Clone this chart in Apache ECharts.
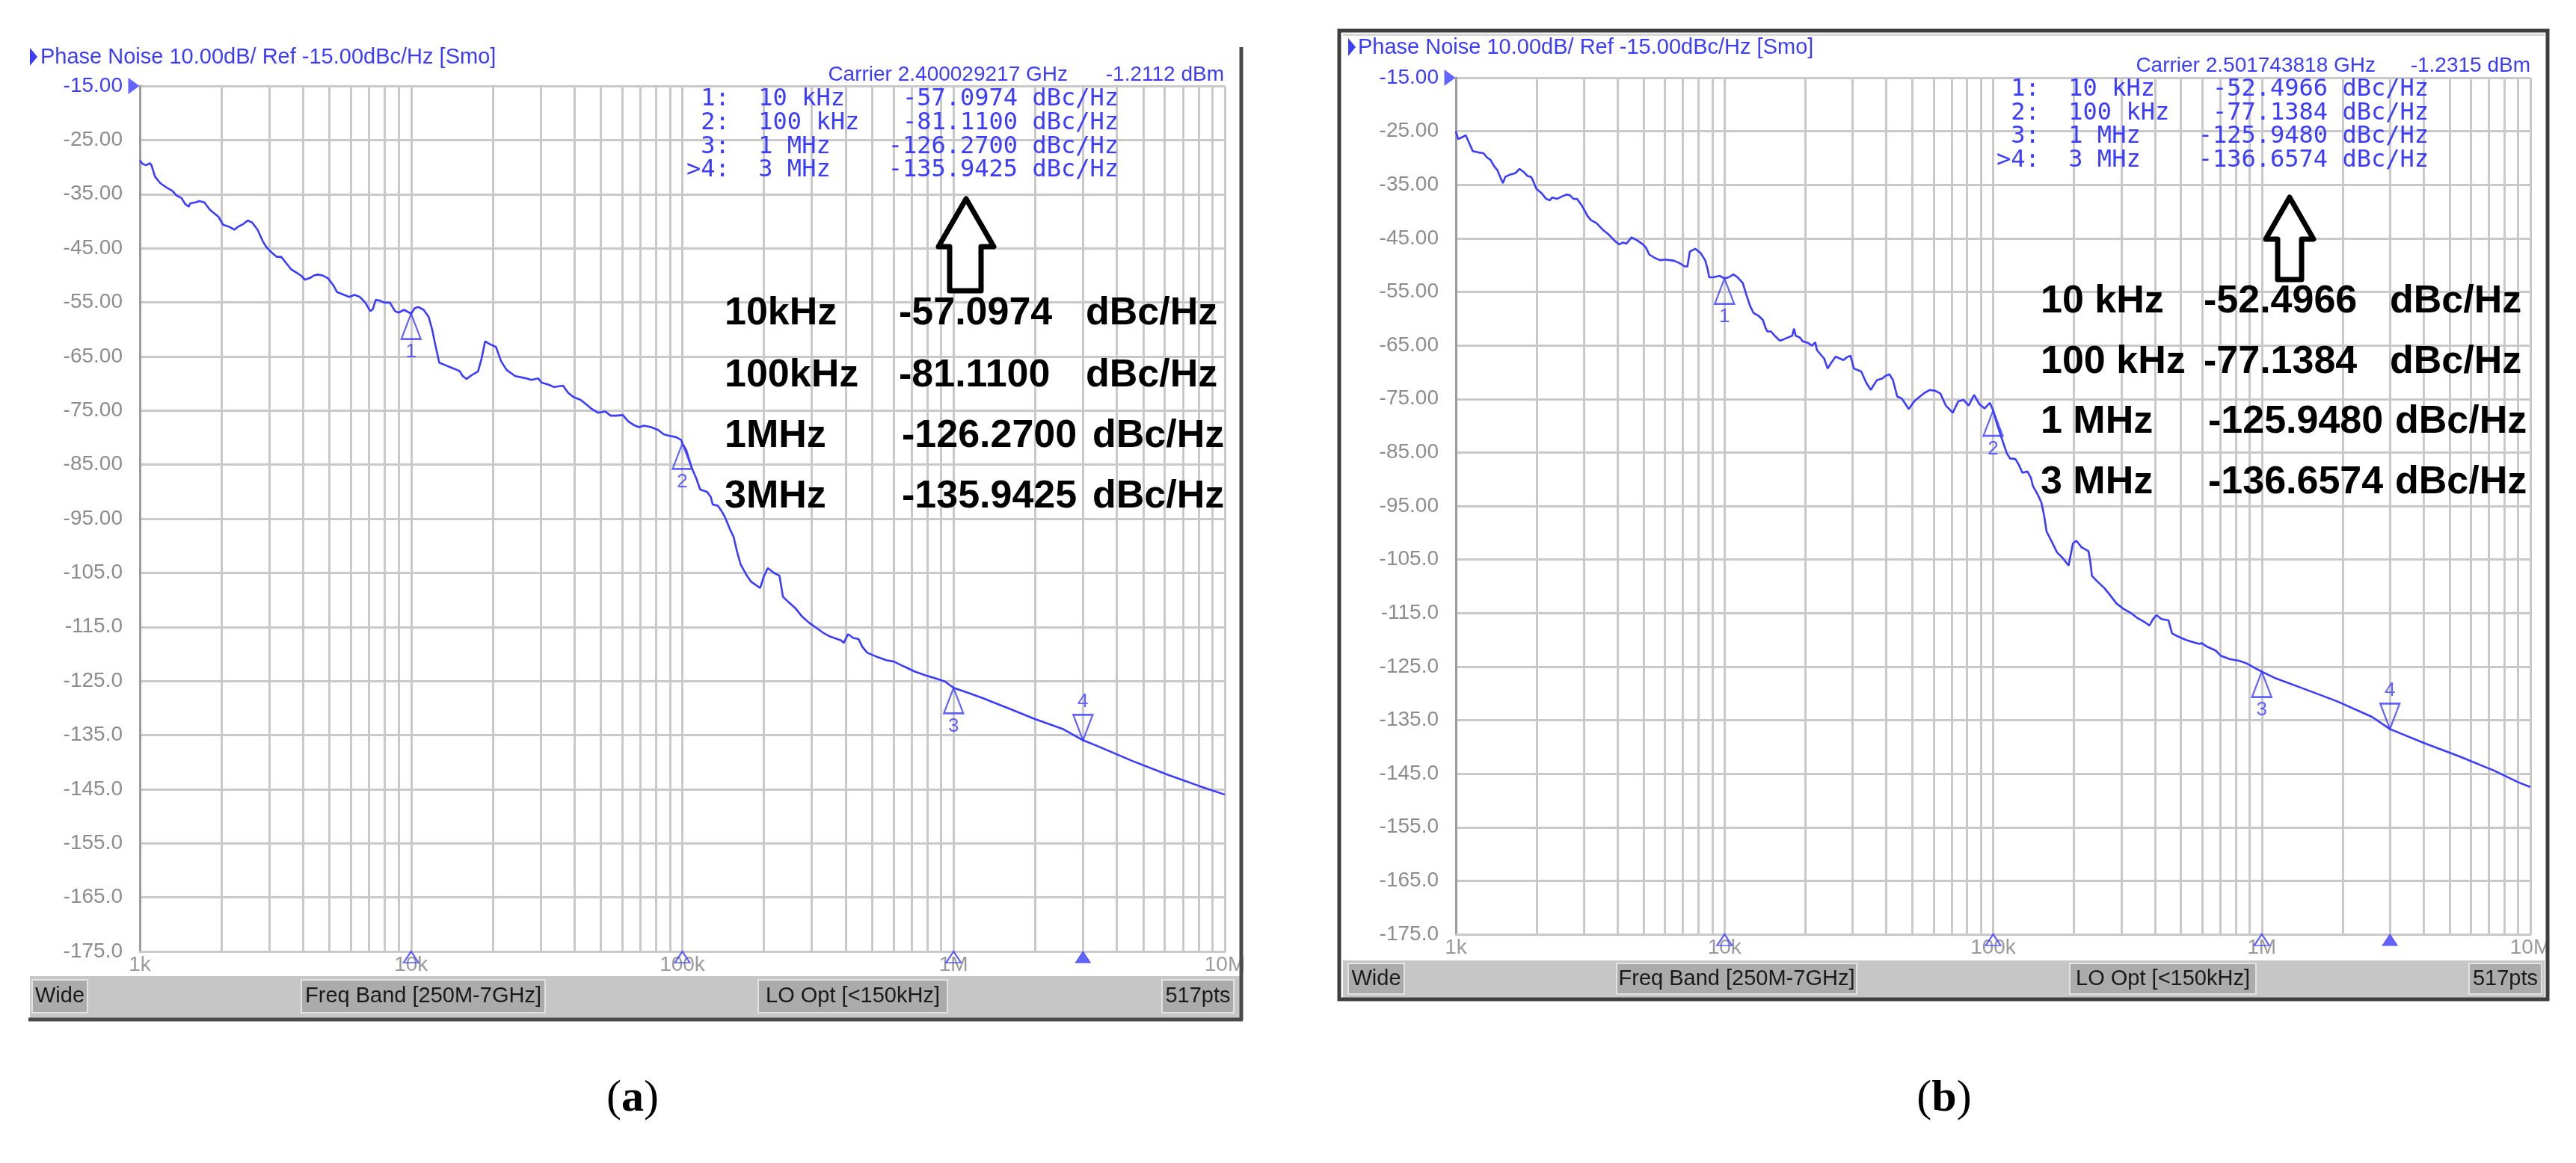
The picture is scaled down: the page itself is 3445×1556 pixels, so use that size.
<!DOCTYPE html>
<html><head><meta charset="utf-8">
<script src="https://cdn.jsdelivr.net/npm/echarts@6/dist/echarts.min.js"></script>
<style>html,body{margin:0;padding:0;background:#fff;}#c{width:3445px;height:1556px;}</style>
</head><body><div id="c"></div>
<script>
// ================= DATA =================
const xTickValues = [1e3, 1e4, 1e5, 1e6, 1e7];
const xTickLabels = ['1k', '10k', '100k', '1M', '10M'];
const yBottom = -175, yTop = -15, yStep = 10;
const refLevel = -15;

const markerFreqs = [1e4, 1e5, 1e6, 3e6];
const markerNums = ['1', '2', '3', '4'];
const markerTableFreq = ['10 kHz', '100 kHz', '1 MHz', '3 MHz'];
const bigFreqA = ['10kHz', '100kHz', '1MHz', '3MHz'];
const bigFreqB = ['10 kHz', '100 kHz', '1 MHz', '3 MHz'];
const markerValuesA = [-57.0974, -81.1100, -126.2700, -135.9425];
const markerValuesB = [-52.4966, -77.1384, -125.9480, -136.6574];
const unitText = 'dBc/Hz';

const headerText = 'Phase Noise 10.00dB/ Ref -15.00dBc/Hz [Smo]';
const carrierA = ['Carrier 2.400029217 GHz', '-1.2112 dBm'];
const carrierB = ['Carrier 2.501743818 GHz', '-1.2315 dBm'];
const statusButtons = ['Wide', 'Freq Band [250M-7GHz]', 'LO Opt [<150kHz]', '517pts'];

// trace (a): [log10(offset / Hz), dBc/Hz]
const traceA = [
[3.000,-28.76],[3.010,-29.39],[3.023,-29.66],[3.037,-29.29],[3.043,-29.66],[3.056,-31.77],[3.076,-32.99],
[3.102,-33.89],[3.121,-34.42],[3.134,-35.21],[3.154,-35.74],[3.167,-36.80],[3.180,-37.33],[3.186,-36.69],
[3.206,-36.53],[3.219,-36.27],[3.238,-36.53],[3.258,-37.86],[3.277,-38.65],[3.290,-39.18],[3.307,-40.66],
[3.329,-41.03],[3.349,-41.56],[3.362,-41.03],[3.382,-40.50],[3.398,-39.87],[3.414,-40.24],[3.434,-41.56],
[3.453,-43.68],[3.466,-44.74],[3.486,-45.79],[3.505,-46.59],[3.521,-46.59],[3.538,-47.65],[3.557,-48.86],
[3.577,-49.50],[3.596,-50.13],[3.609,-50.82],[3.629,-50.45],[3.642,-50.03],[3.655,-49.87],[3.674,-50.03],
[3.694,-50.56],[3.714,-51.88],[3.727,-53.10],[3.753,-53.62],[3.772,-53.99],[3.792,-53.62],[3.811,-53.99],
[3.831,-55.05],[3.850,-56.64],[3.859,-56.27],[3.870,-54.52],[3.885,-54.68],[3.902,-55.05],[3.922,-55.05],
[3.941,-56.64],[3.954,-56.90],[3.974,-56.38],[4.000,-57.10],[4.013,-56.11],[4.026,-55.85],[4.046,-56.38],
[4.065,-57.70],[4.078,-60.08],[4.091,-63.25],[4.104,-66.16],[4.130,-66.69],[4.156,-67.22],[4.169,-67.49],
[4.180,-67.75],[4.189,-68.54],[4.204,-69.18],[4.221,-68.54],[4.247,-67.75],[4.260,-65.37],[4.273,-62.20],
[4.286,-62.62],[4.313,-63.25],[4.332,-65.90],[4.352,-67.49],[4.384,-68.65],[4.417,-68.97],[4.443,-69.34],
[4.469,-69.07],[4.482,-69.87],[4.508,-70.24],[4.527,-70.66],[4.560,-70.40],[4.579,-71.72],[4.599,-72.51],
[4.625,-73.04],[4.645,-73.84],[4.664,-74.63],[4.690,-75.42],[4.716,-75.16],[4.736,-75.95],[4.755,-75.95],
[4.781,-75.85],[4.801,-77.01],[4.820,-77.65],[4.840,-78.07],[4.859,-77.80],[4.885,-78.07],[4.911,-78.60],
[4.931,-79.39],[4.951,-79.66],[4.977,-79.92],[4.996,-80.45],[5.000,-81.11],[5.014,-82.24],[5.034,-85.46],
[5.053,-87.76],[5.066,-89.61],[5.092,-90.07],[5.105,-90.99],[5.112,-92.37],[5.131,-92.60],[5.144,-93.53],
[5.157,-94.68],[5.176,-96.98],[5.189,-98.36],[5.202,-101.13],[5.215,-103.43],[5.235,-105.28],[5.254,-106.66],
[5.287,-107.81],[5.300,-105.74],[5.315,-104.12],[5.339,-105.05],[5.358,-105.51],[5.371,-109.42],[5.390,-110.35],
[5.416,-111.50],[5.442,-113.11],[5.468,-114.26],[5.494,-115.18],[5.520,-116.11],[5.546,-116.80],[5.585,-117.49],
[5.595,-117.95],[5.611,-116.34],[5.630,-117.03],[5.650,-117.26],[5.663,-118.64],[5.682,-119.79],[5.715,-120.48],
[5.754,-121.18],[5.780,-121.41],[5.818,-122.33],[5.857,-123.25],[5.896,-123.94],[5.935,-124.54],[5.968,-125.09],
[6.000,-126.27],[6.052,-127.17],[6.104,-128.09],[6.208,-130.16],[6.298,-132.00],[6.402,-133.85],[6.477,-135.94],
[6.532,-137.06],[6.661,-139.82],[6.791,-142.35],[6.908,-144.45],[7.000,-146.0]
];

// trace (b): [log10(offset / Hz), dBc/Hz]
const traceB = [
[3.000,-25.00],[3.008,-26.44],[3.021,-26.17],[3.037,-25.75],[3.050,-27.24],[3.063,-28.73],[3.083,-28.94],
[3.103,-29.10],[3.116,-29.90],[3.129,-30.33],[3.142,-31.50],[3.155,-32.30],[3.168,-33.90],[3.175,-34.70],
[3.184,-33.52],[3.201,-33.10],[3.221,-32.83],[3.237,-32.03],[3.254,-32.67],[3.267,-33.36],[3.280,-33.52],
[3.289,-34.43],[3.300,-35.76],[3.319,-36.56],[3.336,-37.63],[3.350,-37.89],[3.359,-37.36],[3.376,-37.63],
[3.392,-37.25],[3.411,-36.83],[3.424,-36.93],[3.438,-37.63],[3.451,-37.63],[3.470,-38.96],[3.490,-40.82],
[3.503,-41.62],[3.523,-42.15],[3.549,-43.49],[3.569,-44.29],[3.589,-45.35],[3.608,-46.15],[3.622,-45.78],
[3.635,-45.99],[3.654,-44.82],[3.674,-45.35],[3.694,-46.04],[3.707,-46.68],[3.720,-48.02],[3.740,-48.65],
[3.760,-49.08],[3.779,-48.97],[3.799,-49.08],[3.812,-49.19],[3.832,-49.61],[3.852,-50.25],[3.862,-50.25],
[3.871,-47.48],[3.891,-46.95],[3.911,-47.75],[3.928,-49.08],[3.937,-50.68],[3.943,-52.28],[3.957,-52.28],
[3.983,-52.01],[4.000,-52.50],[4.016,-52.28],[4.033,-51.74],[4.049,-52.28],[4.068,-53.34],[4.081,-55.47],
[4.095,-57.61],[4.108,-58.94],[4.127,-59.47],[4.143,-60.27],[4.154,-61.87],[4.160,-62.40],[4.173,-62.40],
[4.187,-63.20],[4.206,-64.11],[4.219,-63.89],[4.239,-63.47],[4.252,-63.20],[4.259,-61.87],[4.265,-63.20],
[4.279,-63.47],[4.292,-64.26],[4.311,-64.53],[4.325,-65.06],[4.338,-64.42],[4.344,-65.86],[4.357,-66.66],
[4.371,-67.46],[4.384,-69.33],[4.397,-68.26],[4.414,-67.09],[4.430,-67.46],[4.443,-67.73],[4.456,-67.20],
[4.469,-66.93],[4.482,-69.33],[4.495,-69.59],[4.509,-69.86],[4.528,-71.99],[4.545,-73.32],[4.554,-72.52],
[4.568,-71.46],[4.587,-71.19],[4.600,-70.66],[4.614,-70.39],[4.627,-71.46],[4.643,-74.55],[4.660,-74.92],
[4.686,-76.89],[4.706,-75.45],[4.725,-74.65],[4.745,-73.85],[4.765,-73.32],[4.785,-73.48],[4.804,-74.01],
[4.824,-76.25],[4.850,-77.58],[4.870,-75.45],[4.890,-75.19],[4.909,-76.25],[4.929,-74.23],[4.949,-75.99],
[4.968,-76.79],[4.988,-75.72],[5.000,-77.14],[5.012,-79.29],[5.031,-82.22],[5.051,-85.15],[5.063,-86.12],
[5.083,-86.22],[5.096,-87.34],[5.109,-88.80],[5.128,-88.56],[5.141,-89.78],[5.148,-91.24],[5.167,-92.95],
[5.180,-94.41],[5.190,-96.85],[5.199,-99.78],[5.219,-101.73],[5.238,-103.68],[5.258,-104.66],[5.281,-106.12],
[5.297,-101.98],[5.310,-101.49],[5.329,-102.71],[5.355,-103.44],[5.361,-105.15],[5.368,-108.07],[5.387,-109.05],
[5.413,-110.27],[5.433,-111.49],[5.459,-113.20],[5.484,-114.17],[5.510,-114.90],[5.536,-115.88],[5.562,-116.61],
[5.582,-117.34],[5.595,-116.12],[5.608,-115.39],[5.627,-116.12],[5.653,-116.37],[5.666,-118.80],[5.685,-119.29],
[5.718,-120.02],[5.750,-120.51],[5.769,-120.76],[5.776,-120.61],[5.795,-121.24],[5.828,-121.98],[5.847,-122.95],
[5.880,-123.59],[5.918,-123.93],[5.944,-124.41],[5.970,-125.15],[6.000,-125.95],[6.048,-127.10],[6.152,-129.05],
[6.281,-131.49],[6.411,-134.41],[6.477,-136.66],[6.605,-139.29],[6.734,-141.73],[6.864,-144.41],[6.955,-146.61],
[7.000,-147.5]
];

// ================= STYLE / LAYOUT =================
const BLUE = '#3c3cff';
const GRIDC = '#c9c9c9';
const LABC = '#8c8c8c';
const SANS = '"Liberation Sans", Arial, sans-serif';
const MONO = '"DejaVu Sans Mono", "Liberation Mono", monospace';
const SHIFT = -yBottom; // axis runs 0..160 so split lines fall on multiples of 10

const panels = [
  { grid: { left: 187, top: 115, width: 1451, height: 1158 }, trace: traceA, vals: markerValuesA },
  { grid: { left: 1947, top: 104, width: 1437, height: 1146 }, trace: traceB, vals: markerValuesB }
];

const minorFreqs = [];
for (let d = 1e3; d < 1e7; d *= 10) for (let k = 2; k <= 9; k++) minorFreqs.push(k * d);

function fmtY(v) { const d = v - SHIFT; return d > -100 ? d.toFixed(2) : d.toFixed(1); }

const grids = [], xAxes = [], yAxes = [], series = [];
panels.forEach((p, i) => {
  grids.push(Object.assign({ containLabel: false }, p.grid));
  xAxes.push({
    gridIndex: i, type: 'log', logBase: 10, min: xTickValues[0], max: xTickValues[xTickValues.length - 1],
    splitNumber: 4,
    axisLine: { show: true, lineStyle: { color: GRIDC, width: 3 } },
    axisTick: { show: false },
    splitLine: { show: true, lineStyle: { color: GRIDC, width: 3 } },
    axisLabel: {
      margin: 4, color: '#9a9a9a', fontSize: 28, fontFamily: SANS,
      formatter: v => { const j = xTickValues.findIndex(t => Math.abs(Math.log10(t) - Math.log10(v)) < 1e-6); return j >= 0 ? xTickLabels[j] : ''; }
    }
  });
  yAxes.push({
    gridIndex: i, type: 'value', min: yBottom + SHIFT, max: yTop + SHIFT, interval: yStep,
    axisLine: { show: true, lineStyle: { color: '#9c9c9c', width: 3 } },
    axisTick: { show: false },
    splitLine: { show: true, lineStyle: { color: GRIDC, width: 3 } },
    axisLabel: {
      margin: 23, fontSize: 28, fontFamily: SANS,
      color: v => (Math.abs(v - SHIFT - refLevel) < 1e-6 ? BLUE : LABC),
      formatter: fmtY
    }
  });
  // trace + minor grid lines
  series.push({
    type: 'line', xAxisIndex: i, yAxisIndex: i, z: 3,
    data: p.trace.map(d => [Math.pow(10, d[0]), d[1] + SHIFT]),
    showSymbol: false, symbol: 'none', smooth: false,
    lineStyle: { color: BLUE, width: 2.6 }, silent: true,
    markLine: {
      z: 1, silent: true, symbol: ['none', 'none'], label: { show: false },
      lineStyle: { color: GRIDC, width: 3, type: 'solid' },
      emphasis: { disabled: true },
      data: minorFreqs.map(f => ({ xAxis: f }))
    }
  });
  // markers on trace
  series.push({
    type: 'scatter', xAxisIndex: i, yAxisIndex: i, z: 4, clip: false, silent: true,
    data: markerFreqs.map((f, j) => {
      const up = j < 3;
      return {
        value: [f, p.vals[j] + SHIFT],
        symbol: up ? 'triangle' : 'path://M0,0 L20,0 L10,30 Z',
        symbolSize: [26, 34],
        symbolOffset: [0, up ? '50%' : '-50%'],
        label: { show: true, position: up ? 'bottom' : 'top', distance: 3, formatter: markerNums[j], color: BLUE, fontSize: 26, fontFamily: SANS }
      };
    }),
    itemStyle: { color: 'rgba(255,255,255,0)', borderColor: BLUE, borderWidth: 2.4 }
  });
  // markers on frequency axis
  series.push({
    type: 'scatter', xAxisIndex: i, yAxisIndex: i, z: 4, clip: false, silent: true,
    symbol: 'triangle', symbolSize: [20, 15], symbolOffset: [0, '50%'],
    data: markerFreqs.map((f, j) => ({
      value: [f, yBottom + SHIFT],
      itemStyle: j < 3 ? { color: 'rgba(255,255,255,0)', borderColor: BLUE, borderWidth: 2 } : { color: BLUE, borderColor: BLUE, borderWidth: 1 }
    }))
  });
  // reference level pointer
  series.push({
    type: 'scatter', xAxisIndex: i, yAxisIndex: i, z: 4, clip: false, silent: true,
    symbol: 'path://M0,0 L15,11 L0,22 Z', symbolSize: [15, 22], symbolOffset: [-8, 0],
    itemStyle: { color: BLUE },
    data: [[xTickValues[0], refLevel + SHIFT]]
  });
});

// ================= DECORATION (instrument frame, texts) =================
const G = [];
function txt(x, y, text, font, fill, align, extra) {
  G.push(Object.assign({ type: 'text', x, y, z: 50, silent: true,
    style: { text, font, fill, align: align || 'left', verticalAlign: 'middle' } }, extra || {}));
}
function poly(points, style) { G.push({ type: 'polygon', z: 50, silent: true, shape: { points }, style }); }
function rect(x, y, w, h, style, z) { G.push({ type: 'rect', z: z || 40, silent: true, shape: { x, y, width: w, height: h }, style }); }
function line(x1, y1, x2, y2, stroke, w) { G.push({ type: 'line', z: 45, silent: true, shape: { x1, y1, x2, y2 }, style: { stroke, lineWidth: w } }); }

// --- panel frames ---
line(1660, 63, 1660, 1365, '#4a4a4a', 5);
line(38, 1364, 1662, 1364, '#4a4a4a', 5);
rect(1791, 41, 1616, 1296, { fill: 'none', stroke: '#3e3e3e', lineWidth: 5 }, 45);
line(1796, 46.5, 3403, 46.5, '#d8d8d8', 3);

// --- headers ---
poly([[40, 64], [50, 76], [40, 88]], { fill: BLUE });
txt(54, 77, headerText, '29px ' + SANS, BLUE);
poly([[1803, 51], [1813, 63], [1803, 75]], { fill: BLUE });
txt(1816, 64, headerText, '29px ' + SANS, BLUE);

txt(1428, 100, carrierA[0], '28px ' + SANS, BLUE, 'right');
txt(1637, 100, carrierA[1], '28px ' + SANS, BLUE, 'right');
txt(3177, 88, carrierB[0], '28px ' + SANS, BLUE, 'right');
txt(3384, 88, carrierB[1], '28px ' + SANS, BLUE, 'right');

// --- marker tables (monospace) ---
function padL(s, n) { s = String(s); while (s.length < n) s = ' ' + s; return s; }
function padR(s, n) { s = String(s); while (s.length < n) s = s + ' '; return s; }
function tableLine(j, v) {
  return padL((j === 3 ? '>' : '') + markerNums[j] + ':', 3) + '  ' + padR(markerTableFreq[j], 8) + padL(v.toFixed(4), 10) + ' ' + unitText;
}
[[918, [133, 165, 197, 228], markerValuesA], [2670, [120, 152, 183, 215], markerValuesB]].forEach(t => {
  t[1].forEach((y, j) => txt(t[0], y, tableLine(j, t[2][j]), '32px ' + MONO, BLUE));
});

// --- big black annotations ---
const BIG = 'bold 52px ' + SANS;
const rowsA = [420, 503, 584, 665], rowsB = [404, 485, 565, 646];
rowsA.forEach((y, j) => {
  txt(969, y, bigFreqA[j], BIG, '#000');
  txt(j < 2 ? 1202 : 1206, y, markerValuesA[j].toFixed(4), BIG, '#000');
  txt(j < 2 ? 1452 : 1461, y, unitText, BIG, '#000');
});
rowsB.forEach((y, j) => {
  txt(2729, y, bigFreqB[j], BIG, '#000');
  txt(j < 2 ? 2947 : 2953, y, markerValuesB[j].toFixed(4), BIG, '#000');
  txt(j < 2 ? 3196 : 3203, y, unitText, BIG, '#000');
});

// --- hollow arrows ---
const arrowStyle = { fill: '#fff', stroke: '#000', lineWidth: 7, lineJoin: 'round' };
poly([[1292, 266], [1329, 330], [1312, 330], [1312, 389], [1270, 389], [1270, 330], [1255, 330]], arrowStyle);
poly([[3062, 264], [3094, 320], [3078, 320], [3078, 374], [3046, 374], [3046, 320], [3030, 320]], arrowStyle);

// --- status bars ---
function statusBar(x, y, w, h, btns, by, bh) {
  rect(x, y, w, h, { fill: '#c6c6c6' }, 40);
  btns.forEach((b, j) => {
    rect(b[0], by, b[1] - b[0], bh, { fill: '#ababab', stroke: '#e2e2e2', lineWidth: 2 }, 41);
    txt((b[0] + b[1]) / 2, by + bh / 2, statusButtons[j], '29px ' + SANS, '#1a1a1a', 'center');
  });
}
statusBar(40, 1306, 1618, 56, [[43, 117], [403, 729], [1014, 1267], [1554, 1650]], 1311, 44);
statusBar(1796, 1285, 1607, 50, [[1803, 1878], [2162, 2483], [2768, 3017], [3302, 3399]], 1289, 41);

// --- captions ---
[[846, '(', 'a', ')'], [2600, '(', 'b', ')']].forEach(c => {
  G.push({ type: 'text', x: c[0], y: 1470, z: 50, silent: true,
    style: { text: '{n|' + c[1] + '}{b|' + c[2] + '}{n|' + c[3] + '}', align: 'center', verticalAlign: 'middle',
      rich: { n: { font: '60px "Liberation Serif", serif', fill: '#000' }, b: { font: 'bold 60px "Liberation Serif", serif', fill: '#000' } } } });
});

// ================= CHART =================
const chart = echarts.init(document.getElementById('c'), null, { renderer: 'canvas' });
chart.setOption({
  backgroundColor: '#ffffff',
  animation: false,
  grid: grids, xAxis: xAxes, yAxis: yAxes, series,
  graphic: { elements: G }
});
</script></body></html>
